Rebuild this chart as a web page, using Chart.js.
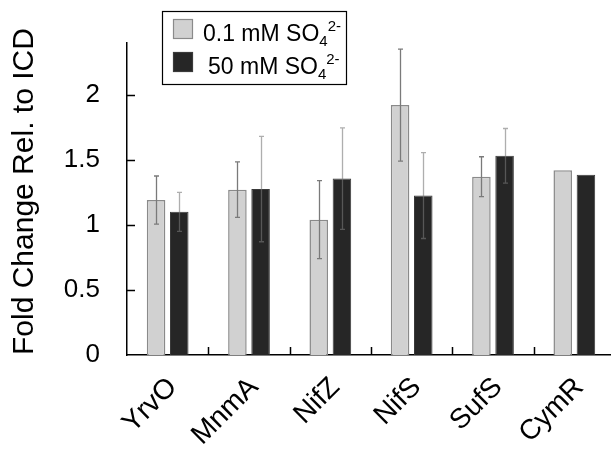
<!DOCTYPE html>
<html><head><meta charset="utf-8">
<script src="https://cdn.jsdelivr.net/npm/chart.js@4.4.0/dist/chart.umd.min.js"></script>
<style>html,body{margin:0;padding:0;overflow:hidden;background:#fff;width:611px;height:450px}
#wrap{width:620px;height:450px;position:relative}</style></head>
<body><div id="wrap"><canvas id="c" width="620" height="450"></canvas></div>
<script>
const categories = ['YrvO', 'MnmA', 'NifZ', 'NifS', 'SufS', 'CymR'];
const lowSulfate = [1.19, 1.27, 1.04, 1.92, 1.37, 1.42];
const lowSulfateErr = [0.185, 0.213, 0.30, 0.43, 0.153, null];
const highSulfate = [1.10, 1.275, 1.355, 1.225, 1.53, 1.385];
const highSulfateErr = [0.15, 0.405, 0.39, 0.33, 0.21, null];
const seriesNames = ['0.1 mM SO', '50 mM SO'];
const seriesSub = ['4', '4'];
const seriesSup = ['2-', '2-'];
const yTickValues = [0, 0.5, 1, 1.5, 2];
const yTitle = 'Fold Change Rel. to ICD';

const FONT = "'Liberation Sans', Arial, sans-serif";
Chart.defaults.font.family = FONT;

const axisTicksPlugin = {
  id: 'axisTicks',
  afterDraw(chart) {
    const {ctx, chartArea, scales: {x, y}} = chart;
    ctx.save();
    ctx.strokeStyle = '#000';
    ctx.lineWidth = 1.5;
    ctx.beginPath();
    yTickValues.forEach(v => {
      if (v === 0) return;
      const py = Math.round(y.getPixelForValue(v)) + 0.5;
      ctx.moveTo(chartArea.left, py);
      ctx.lineTo(chartArea.left + 8, py);
    });
    for (let i = 1; i < categories.length; i++) {
      const px = Math.round((x.getPixelForValue(i - 1) + x.getPixelForValue(i)) / 2) + 0.5;
      ctx.moveTo(px, chartArea.bottom);
      ctx.lineTo(px, chartArea.bottom - 8);
    }
    ctx.stroke();
    ctx.restore();
  }
};

const errorBarPlugin = {
  id: 'errorBars',
  afterDatasetsDraw(chart) {
    const {ctx, scales: {y}} = chart;
    ctx.save();
    chart.data.datasets.forEach((ds, di) => {
      const meta = chart.getDatasetMeta(di);
      ctx.strokeStyle = ds.errColor;
      ctx.lineWidth = 1.3;
      meta.data.forEach((bar, i) => {
        const e = ds.errors[i];
        if (e == null) return;
        const v = ds.data[i];
        const top = y.getPixelForValue(v + e);
        const bot = y.getPixelForValue(v - e);
        const cx = Math.round(bar.x) + 0.5;
        ctx.beginPath();
        ctx.moveTo(cx, top); ctx.lineTo(cx, bot);
        ctx.moveTo(cx - 2.5, top); ctx.lineTo(cx + 2.5, top);
        ctx.moveTo(cx - 2.5, bot); ctx.lineTo(cx + 2.5, bot);
        ctx.stroke();
      });
    });
    ctx.restore();
  }
};

const legendPlugin = {
  id: 'boxLegend',
  afterDraw(chart) {
    const ctx = chart.ctx;
    ctx.save();
    ctx.strokeStyle = '#000';
    ctx.lineWidth = 1.2;
    ctx.strokeRect(162.5, 11.5, 184, 73);
    const rows = [{sy: 19.5, base: 41, tx: 203}, {sy: 52.5, base: 74, tx: 208}];
    chart.data.datasets.forEach((ds, i) => {
      const r = rows[i];
      ctx.fillStyle = ds.backgroundColor;
      ctx.fillRect(173.5, r.sy, 19, 19);
      ctx.strokeStyle = ds.borderColor;
      ctx.lineWidth = 1.2;
      ctx.strokeRect(173.5, r.sy, 19, 19);
      ctx.fillStyle = '#000';
      ctx.textBaseline = 'alphabetic';
      ctx.textAlign = 'left';
      ctx.font = '23px ' + FONT;
      ctx.fillText(seriesNames[i], r.tx, r.base);
      const w = ctx.measureText(seriesNames[i]).width;
      ctx.font = '15px ' + FONT;
      ctx.fillText(seriesSub[i], r.tx + w, r.base + 5);
      const w2 = ctx.measureText(seriesSub[i]).width;
      ctx.fillText(seriesSup[i], r.tx + w + w2, r.base - 10);
    });
    ctx.restore();
  }
};

new Chart(document.getElementById('c'), {
  type: 'bar',
  data: {
    labels: categories,
    datasets: [
      {label: seriesNames[0], data: lowSulfate, errors: lowSulfateErr,
       backgroundColor: '#d1d1d1', borderColor: '#8a8a8a', borderWidth: 1.5,
       errColor: '#7a7a7a', categoryPercentage: 0.57, barPercentage: 0.8},
      {label: seriesNames[1], data: highSulfate, errors: highSulfateErr,
       backgroundColor: '#262626', borderColor: '#3a3a3a', borderWidth: 1,
       errColor: 'rgba(120,120,120,0.6)', categoryPercentage: 0.57, barPercentage: 0.8}
    ]
  },
  options: {
    responsive: false,
    animation: false,
    devicePixelRatio: 1,
    layout: {padding: {top: 20, right: 5, left: 0, bottom: 0}},
    plugins: {legend: {display: false}, tooltip: {enabled: false}},
    scales: {
      x: {
        grid: {display: false, drawTicks: false},
        border: {display: true, color: '#000', width: 1.5},
        ticks: {font: {size: 28}, color: '#000', minRotation: 45, maxRotation: 45, autoSkip: false, padding: 16, labelOffset: 5},
        afterFit: s => { s.height = 95; }
      },
      y: {
        min: 0, max: 2.4,
        grid: {display: false, drawTicks: false},
        border: {display: true, color: '#000', width: 1.5},
        afterBuildTicks: s => { s.ticks = yTickValues.map(v => ({value: v})); },
        ticks: {font: {size: 26}, color: '#000', padding: 27, callback: v => String(v)},
        title: {display: true, text: yTitle, font: {size: 30}, color: '#000', align: 'start', padding: {top: 7, bottom: 0}},
        afterFit: s => { s.width = 127; }
      }
    }
  },
  plugins: [axisTicksPlugin, errorBarPlugin, legendPlugin]
});
</script>
</body></html>
